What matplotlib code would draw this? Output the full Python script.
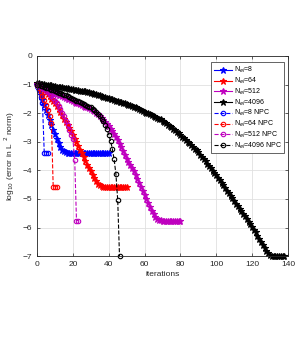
import matplotlib
matplotlib.use("Agg")
import matplotlib.pyplot as plt

plt.rcParams['font.family'] = ['Liberation Sans', 'DejaVu Sans']

# error histories, one value per iteration (log10 of L2 error)
err_8 = [-1.00, -1.18, -1.36, -1.54, -1.72, -1.90, -2.07, -2.24, -2.41, -2.58,
         -2.74, -2.90, -3.05, -3.18, -3.28, -3.34, -3.37, -3.38, -3.38, -3.38,
         -3.38, -3.38, -3.38, -3.38, -3.38, -3.38, -3.38, -3.38, -3.38, -3.38,
         -3.38, -3.38, -3.38, -3.38, -3.38, -3.38, -3.38, -3.38, -3.38, -3.38,
         -3.38]
err_64 = [-0.97, -1.02, -1.08, -1.14, -1.20, -1.26, -1.33, -1.41, -1.49, -1.57,
          -1.66, -1.76, -1.86, -1.97, -2.08, -2.19, -2.30, -2.41, -2.52, -2.64,
          -2.76, -2.89, -3.02, -3.15, -3.28, -3.41, -3.54, -3.67, -3.80, -3.92,
          -4.04, -4.16, -4.28, -4.39, -4.47, -4.52, -4.55, -4.57, -4.57, -4.57,
          -4.57, -4.57, -4.57, -4.57, -4.57, -4.57, -4.57, -4.57, -4.57, -4.57,
          -4.57]
err_512 = [-0.97, -1.00, -1.03, -1.06, -1.10, -1.13, -1.17, -1.20, -1.23, -1.27,
           -1.30, -1.33, -1.36, -1.38, -1.41, -1.44, -1.47, -1.50, -1.52, -1.55,
           -1.58, -1.61, -1.63, -1.66, -1.68, -1.71, -1.74, -1.77, -1.80, -1.82,
           -1.85, -1.89, -1.94, -1.99, -2.04, -2.10, -2.16, -2.23, -2.30, -2.37,
           -2.45, -2.54, -2.63, -2.73, -2.84, -2.95, -3.07, -3.20, -3.33, -3.47,
           -3.60, -3.71, -3.82, -3.93, -4.04, -4.15, -4.29, -4.43, -4.57, -4.71,
           -4.85, -5.00, -5.15, -5.29, -5.42, -5.53, -5.62, -5.69, -5.73, -5.75,
           -5.76, -5.76, -5.76, -5.76, -5.76, -5.76, -5.76, -5.76, -5.76, -5.76,
           -5.76]
err_4096 = [-0.95, -0.96, -0.97, -0.98, -0.99, -1.00, -1.01, -1.02, -1.03, -1.04,
            -1.06, -1.07, -1.08, -1.09, -1.10, -1.11, -1.12, -1.13, -1.14, -1.15,
            -1.17, -1.18, -1.19, -1.20, -1.21, -1.22, -1.23, -1.24, -1.25, -1.26,
            -1.28, -1.30, -1.32, -1.34, -1.36, -1.38, -1.40, -1.42, -1.44, -1.46,
            -1.48, -1.50, -1.52, -1.54, -1.56, -1.58, -1.60, -1.62, -1.64, -1.66,
            -1.68, -1.70, -1.72, -1.74, -1.77, -1.80, -1.83, -1.86, -1.89, -1.92,
            -1.95, -1.98, -2.01, -2.04, -2.07, -2.10, -2.13, -2.16, -2.19, -2.22,
            -2.26, -2.30, -2.35, -2.40, -2.45, -2.50, -2.55, -2.60, -2.65, -2.70,
            -2.76, -2.82, -2.88, -2.94, -3.00, -3.06, -3.12, -3.18, -3.24, -3.30,
            -3.37, -3.45, -3.53, -3.61, -3.69, -3.77, -3.85, -3.93, -4.01, -4.09,
            -4.17, -4.26, -4.35, -4.44, -4.53, -4.62, -4.71, -4.80, -4.89, -4.98,
            -5.07, -5.16, -5.25, -5.34, -5.43, -5.52, -5.61, -5.70, -5.79, -5.88,
            -5.97, -6.07, -6.17, -6.28, -6.39, -6.50, -6.61, -6.72, -6.82, -6.90,
            -6.95, -6.98, -7.00, -7.00, -7.00, -7.00, -7.00, -7.00, -7.00]

err_8_npc = [-1.00, -1.20, -1.42, -1.65, -3.38, -3.38, -3.38]
err_64_npc = [-1.00, -1.12, -1.25, -1.40, -1.55, -1.72, -1.90, -2.10, -2.35,
              -4.57, -4.57, -4.57]
err_512_npc = [-1.00, -1.03, -1.07, -1.11, -1.16, -1.21, -1.27, -1.33, -1.40,
               -1.48, -1.56, -1.65, -1.75, -1.86, -1.98, -2.11, -2.26, -2.42,
               -2.58, -2.75, -2.92, -3.64, -5.76, -5.76]
err_4096_npc = [-1.00, -1.02, -1.04, -1.06, -1.08, -1.11, -1.13, -1.15, -1.18,
                -1.20, -1.23, -1.25, -1.28, -1.30, -1.33, -1.35, -1.38, -1.41,
                -1.44, -1.47, -1.50, -1.53, -1.56, -1.59, -1.62, -1.65, -1.68,
                -1.71, -1.74, -1.77, -1.80, -1.84, -1.89, -1.95, -2.02, -2.10,
                -2.19, -2.29, -2.40, -2.56, -2.75, -2.97, -3.25, -3.62, -4.13,
                -5.04, -7.00]

series = [
    (err_8, 'N$_{el}$=8', 'b', '-', '*'),
    (err_64, 'N$_{el}$=64', 'r', '-', '*'),
    (err_512, 'N$_{el}$=512', 'm', '-', '*'),
    (err_4096, 'N$_{el}$=4096', 'k', '-', '*'),
    (err_8_npc, 'N$_{el}$=8 NPC', 'b', '--', 'o'),
    (err_64_npc, 'N$_{el}$=64 NPC', 'r', '--', 'o'),
    (err_512_npc, 'N$_{el}$=512 NPC', 'm', '--', 'o'),
    (err_4096_npc, 'N$_{el}$=4096 NPC', 'k', '--', 'o'),
]

fig = plt.figure(figsize=(2.99, 3.37), dpi=100)
ax = fig.add_axes([0.124, 0.240, 0.839, 0.594])

for vals, lab, col, ls, mk in series:
    its = list(range(len(vals)))
    if mk == 'o':
        ax.plot(its, vals, color=col, ls=ls, lw=0.8, marker='o', ms=3.2,
                mfc='none', mew=0.8, label=lab, clip_on=False)
    else:
        ax.plot(its, vals, color=col, ls=ls, lw=0.8, marker='*', ms=4.5,
                mew=0.8, label=lab, clip_on=False)

ax.set_xlim(0, 140)
ax.set_ylim(-7, 0)
ax.set_xticks(range(0, 141, 20))
ax.set_yticks(range(-7, 1))
ax.grid(True, color='#e0e0e0', lw=0.6)
ax.set_axisbelow(True)
ax.tick_params(direction='in', top=True, right=True, labelsize=6,
               colors='#262626', length=2, width=0.5)
for sp in ax.spines.values():
    sp.set_color('#262626')
    sp.set_linewidth(0.6)

ax.set_xlabel('iterations', fontsize=6, color='#262626', labelpad=2)
ax.set_ylabel('log$_{10}$ (error in L $^{2}$ norm)', fontsize=6,
              color='#262626', labelpad=4)

leg = ax.legend(loc='upper right', fontsize=5, handlelength=2.6,
                handletextpad=0.3, labelspacing=0.08, borderpad=0.4,
                fancybox=False, framealpha=1, edgecolor='#262626',
                bbox_to_anchor=(1.0, 0.985))
leg.get_frame().set_linewidth(0.5)

fig.savefig('out.png', dpi=100)
